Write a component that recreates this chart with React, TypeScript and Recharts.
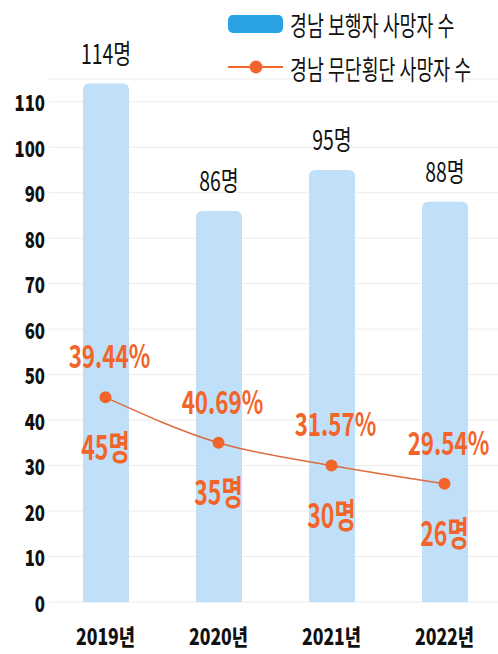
import React from 'react';
import {
  ComposedChart,
  Bar,
  Line,
  XAxis,
  YAxis,
  CartesianGrid,
  LabelList,
} from 'recharts';

const years = ['2019년', '2020년', '2021년', '2022년'];
const pedestrianDeaths = [114, 86, 95, 88];
const jaywalkDeaths = [45, 35, 30, 26];
const jaywalkShare = ['39.44%', '40.69%', '31.57%', '29.54%'];
const yTicks = [0, 10, 20, 30, 40, 50, 60, 70, 80, 90, 100, 110];

const data = years.map((year, i) => ({
  year,
  pedestrian: pedestrianDeaths[i],
  jaywalk: jaywalkDeaths[i],
  share: jaywalkShare[i],
}));

const FONT = '"Noto Sans CJK KR", "Noto Sans", sans-serif';
const ORANGE = '#F2652A';
const BAR_BLUE = '#BFE0F8';
const LEGEND_BLUE = '#2AA2E6';

function Squeezed({ x, y, text, size, weight, fill, anchor = 'middle', sx = 0.75 }: any) {
  return (
    <text
      transform={`translate(${x},${y}) scale(${sx},1)`}
      textAnchor={anchor}
      dominantBaseline="central"
      fontFamily={FONT}
      fontSize={size}
      fontWeight={weight}
      fill={fill}
    >
      {text}
    </text>
  );
}

function YTick({ x, y, payload }: any) {
  return <Squeezed x={x} y={y} text={payload.value} size={22} weight={900} fill="#111" anchor="end" sx={0.76} />;
}

function XTick({ x, y, payload }: any) {
  return <Squeezed x={x} y={y + 26} text={payload.value} size={22} weight={900} fill="#111" sx={0.8} />;
}

function BarLabel({ x, y, width, value }: any) {
  return <Squeezed x={x + width / 2} y={y - 31} text={`${value}명`} size={27} weight={400} fill="#111" sx={0.72} />;
}

function ShareLabel({ x, y, index }: any) {
  return <Squeezed x={x + 4} y={y - 43} text={jaywalkShare[index]} size={32} weight={700} fill={ORANGE} sx={0.7} />;
}

function CountLabel({ x, y, value }: any) {
  return <Squeezed x={x} y={y + 47} text={`${value}명`} size={34} weight={700} fill={ORANGE} sx={0.68} />;
}

function LegendBox() {
  return (
    <svg width={270} height={90} style={{ position: 'absolute', left: 228, top: 0 }}>
      <rect x={0} y={15} width={55} height={18} rx={5} fill={LEGEND_BLUE} />
      <Squeezed x={62} y={24} text="경남 보행자 사망자 수" size={27} weight={400} fill="#111" anchor="start" sx={0.68} />
      <line x1={0} y1={67} x2={55} y2={67} stroke={ORANGE} strokeWidth={2} />
      <circle cx={28} cy={67} r={6.5} fill={ORANGE} />
      <Squeezed x={62} y={68} text="경남 무단횡단 사망자 수" size={27} weight={400} fill="#111" anchor="start" sx={0.68} />
    </svg>
  );
}

export default function App() {
  return (
    <div style={{ position: 'absolute', left: 0, top: 0, width: 498, height: 654, background: '#fff' }}>
      <ComposedChart
        width={498}
        height={654}
        data={data}
        margin={{ top: 79, right: -3, left: 0, bottom: 12 }}
      >
        <CartesianGrid vertical={false} stroke="#ececec" />
        <XAxis
          dataKey="year"
          axisLine={false}
          tickLine={false}
          height={40}
          tick={<XTick />}
          interval={0}
        />
        <YAxis
          domain={[0, 115]}
          ticks={yTicks}
          axisLine={false}
          tickLine={false}
          tickSize={0}
          tickMargin={4}
          width={49}
          tick={<YTick />}
          interval={0}
        />
        <Bar dataKey="pedestrian" name="경남 보행자 사망자 수" fill={BAR_BLUE} barSize={46} radius={[6, 6, 0, 0]} isAnimationActive={false}>
          <LabelList dataKey="pedestrian" content={<BarLabel />} />
        </Bar>
        <Line
          type="monotone"
          dataKey="jaywalk"
          name="경남 무단횡단 사망자 수"
          stroke="#DE6B3E"
          strokeWidth={1.5}
          dot={{ r: 6, fill: ORANGE, stroke: 'none' }}
          activeDot={false}
          isAnimationActive={false}
        >
          <LabelList dataKey="share" content={<ShareLabel />} />
          <LabelList dataKey="jaywalk" content={<CountLabel />} />
        </Line>
      </ComposedChart>
      <LegendBox />
    </div>
  );
}
